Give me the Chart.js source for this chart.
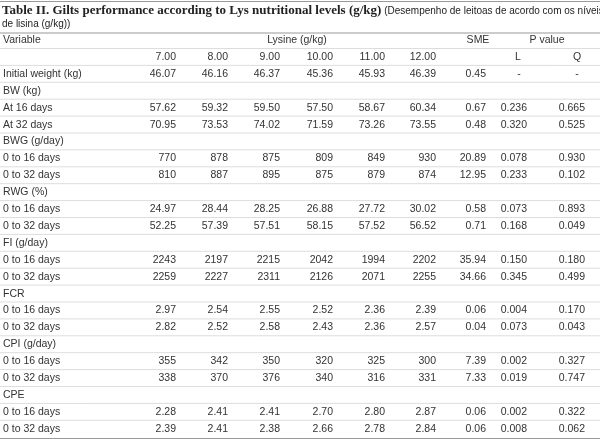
<!DOCTYPE html>
<html><head><meta charset="utf-8">
<script src="https://cdn.jsdelivr.net/npm/chart.js@4/dist/chart.umd.min.js"></script>
<style>html,body{margin:0;padding:0;background:#fff}#c{display:block}</style>
</head><body>
<div style="width:600px;height:439px"><canvas id="c"></canvas></div>
<script>
var levels = ['7.00', '8.00', '9.00', '10.00', '11.00', '12.00'];
var rowLabels = ['Initial weight (kg)', 'BW (kg)', 'At 16 days', 'At 32 days', 'BWG (g/day)', '0 to 16 days', '0 to 32 days',
	'RWG (%)', '0 to 16 days', '0 to 32 days', 'FI (g/day)', '0 to 16 days', '0 to 32 days', 'FCR', '0 to 16 days', '0 to 32 days',
	'CPI (g/day)', '0 to 16 days', '0 to 32 days', 'CPE', '0 to 16 days', '0 to 32 days'];
// one entry per row: [7.00, 8.00, 9.00, 10.00, 11.00, 12.00, SME, L, Q]; null = group heading
var rowValues = [
	['46.07', '46.16', '46.37', '45.36', '45.93', '46.39', '0.45', '-', '-'],
	null,
	['57.62', '59.32', '59.50', '57.50', '58.67', '60.34', '0.67', '0.236', '0.665'],
	['70.95', '73.53', '74.02', '71.59', '73.26', '73.55', '0.48', '0.320', '0.525'],
	null,
	['770', '878', '875', '809', '849', '930', '20.89', '0.078', '0.930'],
	['810', '887', '895', '875', '879', '874', '12.95', '0.233', '0.102'],
	null,
	['24.97', '28.44', '28.25', '26.88', '27.72', '30.02', '0.58', '0.073', '0.893'],
	['52.25', '57.39', '57.51', '58.15', '57.52', '56.52', '0.71', '0.168', '0.049'],
	null,
	['2243', '2197', '2215', '2042', '1994', '2202', '35.94', '0.150', '0.180'],
	['2259', '2227', '2311', '2126', '2071', '2255', '34.66', '0.345', '0.499'],
	null,
	['2.97', '2.54', '2.55', '2.52', '2.36', '2.39', '0.06', '0.004', '0.170'],
	['2.82', '2.52', '2.58', '2.43', '2.36', '2.57', '0.04', '0.073', '0.043'],
	null,
	['355', '342', '350', '320', '325', '300', '7.39', '0.002', '0.327'],
	['338', '370', '376', '340', '316', '331', '7.33', '0.019', '0.747'],
	null,
	['2.28', '2.41', '2.41', '2.70', '2.80', '2.87', '0.06', '0.002', '0.322'],
	['2.39', '2.41', '2.38', '2.66', '2.78', '2.84', '0.06', '0.008', '0.062']
];

var colRight = [176, 228, 280, 333, 385, 436, 486, 527, 585];
var sans = '"Liberation Sans", Arial, sans-serif';

var tablePlugin = {
	id: 'table',
	afterDraw: function(chart) {
		var ctx = chart.ctx, xs = chart.scales.x, ys = chart.scales.y;
		var X = function(v) { return xs.getPixelForValue(v); };
		var Y = function(v) { return ys.getPixelForValue(v); };
		ctx.save();
		ctx.textBaseline = 'middle';
		// title
		ctx.fillStyle = '#222';
		ctx.font = 'bold 13px "Liberation Serif", "DejaVu Serif", serif';
		ctx.textAlign = 'left';
		var t = 'Table II. Gilts performance according to Lys nutritional levels (g/kg)';
		ctx.fillText(t, X(2), Y(11));
		var w = ctx.measureText(t).width;
		ctx.font = '10px ' + sans;
		ctx.fillText(' (Desempenho de leitoas de acordo com os níveis', X(2) + w, Y(11.5));
		ctx.fillText('de lisina (g/kg))', X(2), Y(24));
		// lines
		ctx.strokeStyle = '#999';
		ctx.lineWidth = 1;
		[1, 32.5, 438].forEach(function(y) {
			ctx.beginPath(); ctx.moveTo(X(0), Y(y) + 0.5); ctx.lineTo(X(600), Y(y) + 0.5); ctx.stroke();
		});
		ctx.strokeStyle = '#ddd';
		for (var r = 0; r < rowLabels.length + 1; r++) {
			var yy = 48.5 + r * 16.9;
			ctx.beginPath(); ctx.moveTo(X(0), Y(yy)); ctx.lineTo(X(600), Y(yy)); ctx.stroke();
		}
		// header
		ctx.fillStyle = '#333';
		ctx.font = '10.5px ' + sans;
		ctx.textAlign = 'left';
		ctx.fillText('Variable', X(3), Y(40));
		ctx.textAlign = 'center';
		ctx.fillText('Lysine (g/kg)', X(297), Y(40));
		ctx.fillText('SME', X(478), Y(40));
		ctx.fillText('P value', X(547), Y(40));
		ctx.textAlign = 'right';
		levels.forEach(function(l, i) { ctx.fillText(l, X(colRight[i]), Y(57)); });
		ctx.textAlign = 'center';
		ctx.fillText('L', X(518), Y(57));
		ctx.fillText('Q', X(577), Y(57));
		// body
		rowLabels.forEach(function(lab, r) {
			var y = Y(74 + r * 16.9);
			ctx.textAlign = 'left';
			ctx.fillText(lab, X(3), y);
			var vals = rowValues[r];
			if (!vals) return;
			vals.forEach(function(v, c) {
				if (v === '-') { ctx.textAlign = 'center'; ctx.fillText(v, X(colRight[c] - 8), y); }
				else { ctx.textAlign = 'right'; ctx.fillText(v, X(colRight[c]), y); }
			});
		});
		ctx.restore();
	}
};

new Chart(document.getElementById('c'), {
	type: 'scatter',
	data: { datasets: [{ data: [] }] },
	options: {
		responsive: true,
		maintainAspectRatio: false,
		animation: false,
		layout: { padding: 0 },
		plugins: { legend: { display: false }, tooltip: { enabled: false } },
		scales: {
			x: { type: 'linear', min: 0, max: 600, display: false },
			y: { type: 'linear', min: 0, max: 439, reverse: true, display: false }
		}
	},
	plugins: [tablePlugin]
});
</script>
</body></html>
